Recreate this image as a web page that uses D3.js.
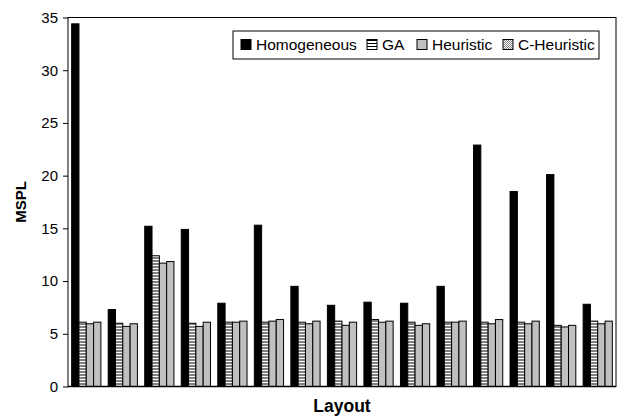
<!DOCTYPE html>
<html>
  <head>
    <meta charset="utf-8">
    <title>MSPL by Layout</title>
    <script src="https://d3js.org/d3.v7.min.js"></script>
    <style>
      body { margin: 0; background: #fff; }
      svg { font-family: "Liberation Sans", Arial, sans-serif; }
      .axis text { font-size: 15px; fill: #000; }
      .axis path, .axis line { stroke: #000; }
      .title { font-weight: bold; }
      .legend text { font-size: 15.5px; }
    </style>
  </head>
  <body>
<script>

// data
var layouts = ["1","2","3","4","5","6","7","8","9","10","11","12","13","14","15"];
var series = ["Homogeneous", "GA", "Heuristic", "C-Heuristic"];
var homogeneous = [34.4, 7.3, 15.2, 14.9, 7.9, 15.3, 9.5, 7.7, 8.0, 7.9, 9.5, 22.9, 18.5, 20.1, 7.8];
var ga          = [6.1, 6.0, 12.4, 6.0, 6.1, 6.1, 6.1, 6.2, 6.35, 6.1, 6.1, 6.1, 6.1, 5.8, 6.2];
var heuristic   = [5.95, 5.7, 11.7, 5.7, 6.1, 6.2, 5.95, 5.8, 6.1, 5.8, 6.1, 5.95, 5.95, 5.65, 5.95];
var cHeuristic  = [6.1, 5.95, 11.85, 6.1, 6.2, 6.35, 6.2, 6.1, 6.2, 5.95, 6.2, 6.35, 6.2, 5.8, 6.2];
var yTicks = [0, 5, 10, 15, 20, 25, 30, 35];

var values = [homogeneous, ga, heuristic, cHeuristic];
var fills = ["#000", "url(#hlines)", "#c0c0c0", "url(#checker)"];

var margin = {top: 17.5, right: 6, bottom: 30.5, left: 68},
    width = 622 - margin.left - margin.right,
    height = 417 - margin.top - margin.bottom;

var svg = d3.select("body").append("svg")
    .attr("width", 622)
    .attr("height", 417);

// fill patterns
var defs = svg.append("defs");
var hl = defs.append("pattern").attr("id", "hlines")
    .attr("patternUnits", "userSpaceOnUse").attr("width", 4).attr("height", 3);
hl.append("rect").attr("width", 4).attr("height", 3).attr("fill", "#fff");
hl.append("rect").attr("width", 4).attr("height", 1).attr("fill", "#000");

var ck = defs.append("pattern").attr("id", "checker")
    .attr("patternUnits", "userSpaceOnUse").attr("width", 2).attr("height", 2);
ck.append("rect").attr("width", 2).attr("height", 2).attr("fill", "#fff");
ck.append("rect").attr("width", 1).attr("height", 1).attr("fill", "#808080");
ck.append("rect").attr("x", 1).attr("y", 1).attr("width", 1).attr("height", 1).attr("fill", "#808080");

var g = svg.append("g")
    .attr("transform", "translate(" + margin.left + "," + margin.top + ")");

var x0 = d3.scaleBand().domain(layouts).range([0, width])
    .paddingInner(0.2).paddingOuter(0.1);
var x1 = d3.scaleBand().domain(series).range([0, x0.bandwidth()]);
var y = d3.scaleLinear().domain([0, 35]).range([height, 0]);

// plot frame
g.append("rect")
    .attr("width", width).attr("height", height)
    .attr("fill", "none").attr("stroke", "#000");

// bars
var groups = g.selectAll("g.layout")
    .data(layouts)
  .enter().append("g")
    .attr("class", "layout")
    .attr("transform", function(d) { return "translate(" + x0(d) + ",0)"; });

groups.selectAll("rect")
    .data(function(d, i) {
      return series.map(function(s, k) { return {series: s, k: k, value: values[k][i]}; });
    })
  .enter().append("rect")
    .attr("x", function(d) { return x1(d.series); })
    .attr("y", function(d) { return y(d.value); })
    .attr("width", x1.bandwidth())
    .attr("height", function(d) { return height - y(d.value); })
    .attr("fill", function(d) { return fills[d.k]; })
    .attr("stroke", "#000")
    .attr("stroke-width", 1);

// y axis
g.append("g")
    .attr("class", "axis")
    .call(d3.axisLeft(y).tickValues(yTicks).tickSize(5).tickPadding(5))
    .call(function(a) { a.select(".domain").remove(); });

// x axis baseline
g.append("line")
    .attr("x1", 0).attr("x2", width)
    .attr("y1", height).attr("y2", height)
    .attr("stroke", "#000").attr("stroke-width", 1.5);

// axis titles
svg.append("text")
    .attr("class", "title")
    .attr("transform", "translate(26," + (margin.top + height / 2) + ") rotate(-90)")
    .style("text-anchor", "middle")
    .style("font-size", "15px")
    .text("MSPL");

svg.append("text")
    .attr("class", "title")
    .attr("x", 342)
    .attr("y", 412)
    .style("text-anchor", "middle")
    .style("font-size", "17.5px")
    .text("Layout");

// legend
var legend = svg.append("g").attr("class", "legend")
    .attr("transform", "translate(233,31)");
legend.append("rect")
    .attr("width", 366).attr("height", 28)
    .attr("fill", "#fff").attr("stroke", "#000");

var legendX = [8, 134, 184, 270];
series.forEach(function(s, k) {
  var item = legend.append("g").attr("transform", "translate(" + legendX[k] + ",0)");
  item.append("rect")
      .attr("x", 0).attr("y", 8.5)
      .attr("width", 10).attr("height", 10)
      .attr("fill", fills[k]).attr("stroke", "#000");
  item.append("text")
      .attr("x", 15).attr("y", 18.5)
      .text(s);
});

</script>
  </body>
</html>
